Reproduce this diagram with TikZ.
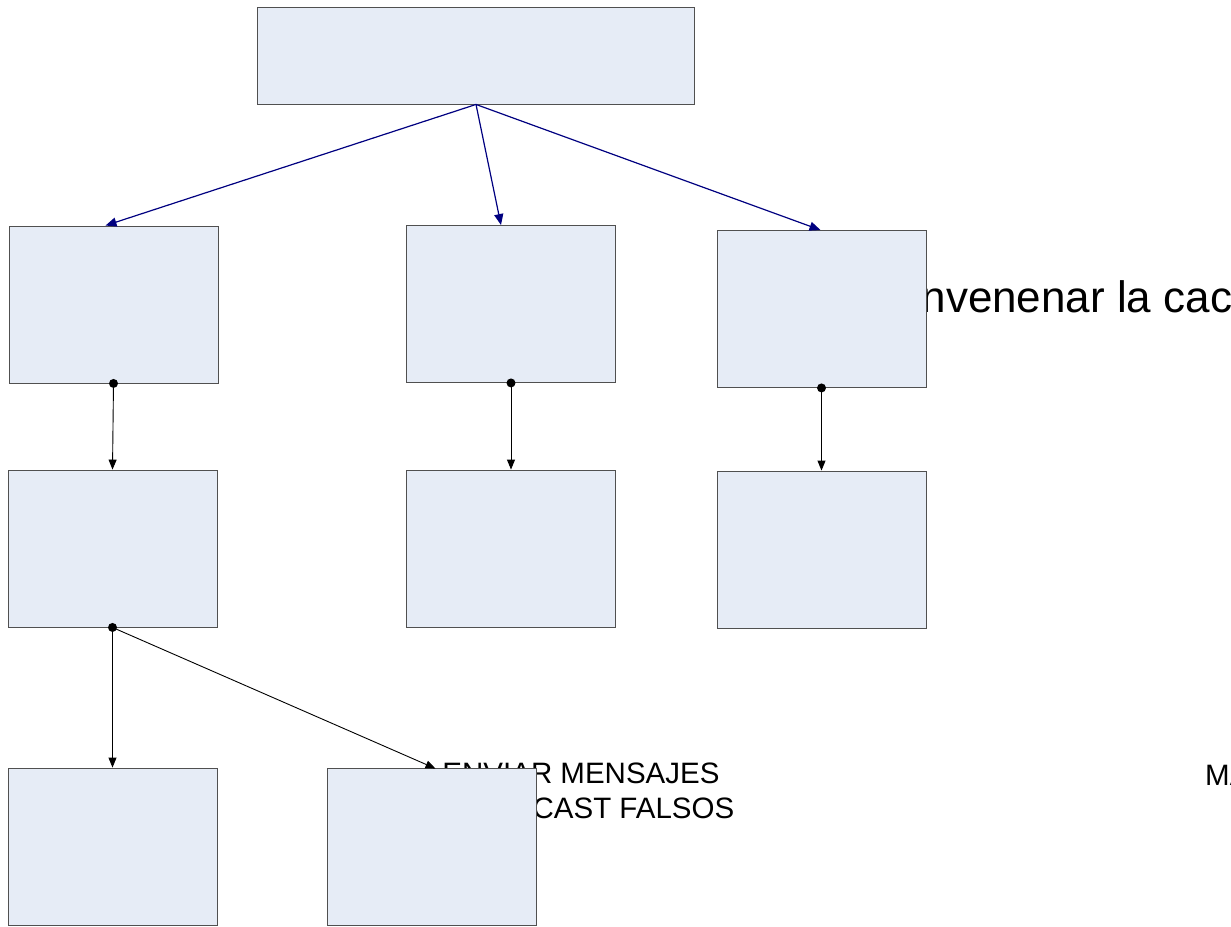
\documentclass[tikz,border=0pt]{standalone}
\usepackage{fontspec}
\setmainfont{Liberation Sans}
\usetikzlibrary{arrows.meta,calc}
\definecolor{boxfill}{HTML}{E6ECF6}
\definecolor{boxline}{HTML}{505050}
\definecolor{navyline}{HTML}{000080}
\tikzset{
  box/.style={draw=boxline, fill=boxfill, line width=0.9pt, minimum width=209pt, minimum height=157pt, inner sep=0pt},
  topbox/.style={box, minimum width=437pt, minimum height=97pt},
  bluearrow/.style={draw=navyline, line width=1.2pt, -{Triangle[length=11pt,width=9pt]}},
  blackarrow/.style={draw=black, line width=0.9pt, -{Triangle[length=10pt,width=8pt]}},
  startdot/.style={fill=black},
  bigtext/.style={font=\fontsize{44}{50}\selectfont, inner sep=0pt},
  midtext/.style={font=\fontsize{29.5}{35}\selectfont, inner sep=0pt, align=center}
}
\begin{document}
\begin{tikzpicture}[x=1pt,y=-1pt]
\useasboundingbox (0,0) rectangle (1231,926);
\clip (0,0) rectangle (1231,926);
% texts lying behind boxes
\node[bigtext, anchor=base west] (t1) at (892,312) {Envenenar la caché};
\node[midtext, anchor=north] (t2) at (581,763) {ENVIAR MENSAJES\\BROADCAST FALSOS};
\node[midtext, anchor=base west] (t3) at (1205,785) {MA};
% boxes
\node[topbox] (top) at (475.5,55.5) {};
\node[box] (A) at (113.5,304.5) {};
\node[box] (B) at (511,304) {};
\node[box] (C) at (821.5,309) {};
\node[box] (D) at (112.5,548.5) {};
\node[box] (E) at (511,548.5) {};
\node[box] (F) at (821.5,549.5) {};
\node[box] (G) at (112.5,846.5) {};
\node[box] (H) at (431.5,846.5) {};
% connectors
\coordinate (ts) at ($(top.south)+(0.5,0)$);
\draw[bluearrow] (ts) -- ($(A.north)+(-8,0)$);
\draw[bluearrow] (ts) -- ($(B.north)+(-10,0)$);
\draw[bluearrow] (ts) -- ($(C.north)+(-1,0)$);
\draw[blackarrow] (A.south) -- (D.north);
\draw[blackarrow] (B.south) -- (E.north);
\draw[blackarrow] (C.south) -- (F.north);
\draw[blackarrow] (D.south) -- (G.north);
\draw[blackarrow] (D.south) -- ($(H.north)+(4,1)$);
\fill[startdot] (A.south) circle (4.5pt);
\fill[startdot] (B.south) circle (4.5pt);
\fill[startdot] (C.south) circle (4.5pt);
\fill[startdot] (D.south) circle (4.5pt);
\end{tikzpicture}
\end{document}
